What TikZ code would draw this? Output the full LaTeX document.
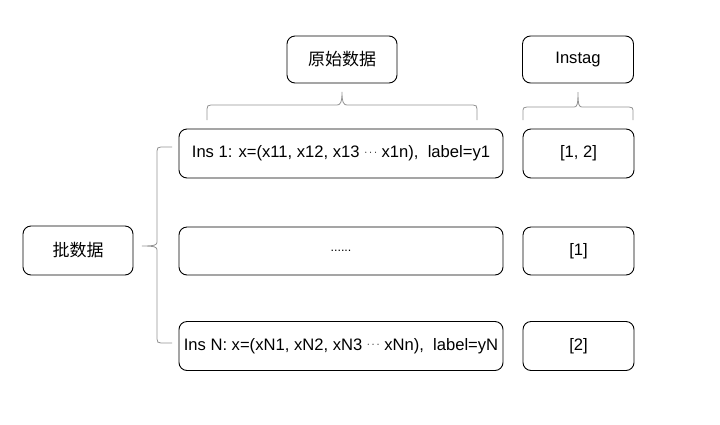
\documentclass[tikz,border=0pt]{standalone}
\usepackage{fontspec}
\setmainfont{Noto Sans CJK SC}
\newfontfamily\latinf{Liberation Sans}
\newcommand{\mdots}{\raisebox{0.3ex}{\fontsize{11}{13}\selectfont$\cdots$}}
\begin{document}
\begin{tikzpicture}[x=1pt,y=-1pt,
  box/.style={draw=black, line width=0.9pt, rounded corners=8pt, inner sep=0pt},
  cn/.style={font=\fontsize{17}{20}\selectfont},
  en/.style={font=\latinf\fontsize{16.6}{19}\selectfont},
  bc/.style={draw=gray!85, line width=0.8pt}]
\useasboundingbox (0,0) rectangle (720,424);
\node[box,cn,minimum width=110pt,minimum height=47pt] (raw) at (342,59.5) {原始数据};
\node[box,en,minimum width=111pt,minimum height=47pt] (instag) at (578,59.5) {Instag};
\node[box,en,minimum width=324pt,minimum height=49pt] (ins1) at (341,153.5) {Ins 1: x=(x11, x12, x13 \mdots{} x1n),\ \ label=y1};
\node[box,en,minimum width=324pt,minimum height=48pt] (mid) at (341,251) {{\fontsize{12.5}{14}\selectfont ......}};
\node[box,en,minimum width=324pt,minimum height=49pt] (insN) at (341,346) {Ins N: x=(xN1, xN2, xN3 \mdots{} xNn),\ \ label=yN};
\node[box,en,minimum width=111pt,minimum height=49pt] (t1) at (578.5,153.5) {[1, 2]};
\node[box,en,minimum width=111pt,minimum height=48pt] (t2) at (578.5,251) {[1]};
\node[box,en,minimum width=111pt,minimum height=49pt] (t3) at (578.5,346) {[2]};
\node[box,cn,minimum width=110pt,minimum height=49pt] (batch) at (78,250.5) {批数据};
% top brace over raw data
\path[bc] (207,120) -- (207,109) .. controls (207,106) and (208,105) .. (211,105) -- (337,105) .. controls (340,105) and (342,103) .. (342,92)
  .. controls (342,103) and (344,105) .. (347,105) -- (473,105) .. controls (476,105) and (477,106) .. (477,109) -- (477,120);
% brace over instag
\path[bc] (523,120) -- (523,110) .. controls (523,108) and (524,107) .. (527,107) -- (574,107) .. controls (577,107) and (578,105) .. (578,92)
  .. controls (578,105) and (579,107) .. (582,107) -- (629,107) .. controls (632,107) and (633,108) .. (633,110) -- (633,120);
% left brace
\path[bc] (172,147) -- (161,147) .. controls (158,147) and (157,148) .. (157,151) -- (157,242) .. controls (157,245) and (155,246) .. (142,246)
  .. controls (155,246) and (157,247) .. (157,250) -- (157,339) .. controls (157,342) and (158,343) .. (161,343) -- (172,343);
\end{tikzpicture}
\end{document}
